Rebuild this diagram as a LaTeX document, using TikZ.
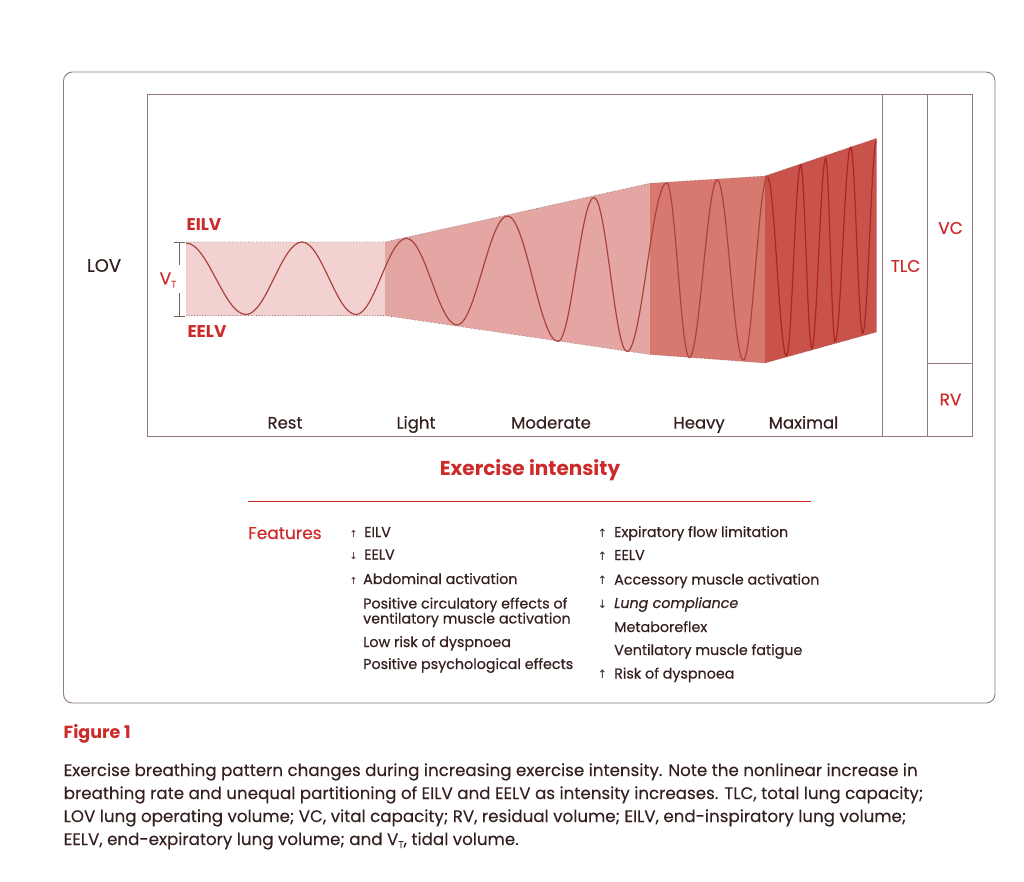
\documentclass[tikz,border=0pt]{standalone}
\usepackage{fontspec}
\setmainfont{Poppins}
\newfontfamily\medfont{Poppins}[FakeBold=0.45]
\newfontfamily\capfont{Poppins}[FakeBold=0.1]
\newfontfamily\arrowfont{DejaVu Sans}
\definecolor{txtdark}{HTML}{35201F}
\definecolor{redc}{HTML}{CC2B2A}
\definecolor{framec}{HTML}{8F7B7C}
\definecolor{restc}{HTML}{F2D2D0}
\definecolor{lightc}{HTML}{E3A6A3}
\definecolor{heavyc}{HTML}{D7796F}
\definecolor{maxc}{HTML}{C9524A}
\definecolor{wavec}{HTML}{A9443D}
\definecolor{dotc}{HTML}{8A7070}
\tikzset{
  frame/.style={draw=framec, line width=0.9pt},
  edge dots/.style={draw=dotc, line width=0.7pt, dotted},
  wave/.style={draw=wavec, line width=1.2pt},
  stage/.style={font=\medfont\fontsize{16.5}{16.5}\selectfont, text=txtdark, inner sep=0pt, anchor=base},
  vol/.style={font=\medfont\fontsize{17}{17}\selectfont, text=redc, inner sep=0pt},
  lim/.style={font=\bfseries\fontsize{17}{17}\selectfont, text=redc, inner sep=0pt},
  feat/.style={font=\medfont\fontsize{14.3}{15}\selectfont, text=txtdark, inner sep=0pt, anchor=base west, align=left},
  arr/.style={font=\arrowfont\fontsize{9.5}{9.5}\selectfont, text=txtdark, inner sep=0pt, anchor=base},
  arrb/.style={font=\arrowfont\fontsize{11.5}{11.5}\selectfont, text=txtdark, inner sep=0pt, anchor=base},
  captext/.style={font=\capfont\fontsize{16.7}{16.7}\selectfont, text=txtdark, inner sep=0pt, anchor=base west},
}
\begin{document}
\begin{tikzpicture}[x=1pt, y=-1pt]
\useasboundingbox (0,0) rectangle (1024,882);
% outer frame
\draw[frame, rounded corners=9pt] (63.5,72) rectangle (995,703);
% bands
\fill[restc] (186,242) -- (385,242) -- (385,315.5) -- (186,315.5) -- cycle;
\fill[lightc] (385,242) -- (650,183.3) -- (650,354.5) -- (385,315.5) -- cycle;
\fill[heavyc] (650,183.3) -- (765,176) -- (765,363) -- (650,354.5) -- cycle;
\fill[maxc] (765,176) -- (876.7,138.3) -- (876.7,332) -- (765,363) -- cycle;
% dotted envelope
\draw[edge dots] (186,242) -- (385,242) -- (650,183.3) -- (765,176) -- (876.7,138.3);
\draw[edge dots] (186,315.5) -- (385,315.5) -- (650,354.5) -- (765,363) -- (876.7,332);
% breathing wave
\draw[wave] (186,243)
  \foreach \x/\y [remember=\x as \px (initially 186), remember=\y as \py (initially 243)] in
  {246/314.5, 302/242, 356/314.5, 406.5/238.3, 457/325, 507.5/216, 558/341.5, 594/197.5, 627/351.5,
   666.7/183, 689.3/357.5, 717.3/180, 743.3/360, 767.5/177}
  { .. controls ({\px+0.3634*(\x-\px)},\py) and ({\x-0.3634*(\x-\px)},\y) .. (\x,\y) };
\draw[wave, draw=redc!85!black] (767.5,177)
  \foreach \x/\y [remember=\x as \px (initially 767.5), remember=\y as \py (initially 177)] in
  {786.5/356, 800.7/165, 811.7/348.3, 825.7/158.5, 835/341.7, 850.7/147.3, 862.7/333.3, 876.5/141}
  { .. controls ({\px+0.3634*(\x-\px)},\py) and ({\x-0.3634*(\x-\px)},\y) .. (\x,\y) };
% plot frame and volume columns
\draw[frame] (147.5,94.5) rectangle (972.5,436.5);
\draw[frame] (882.7,94.5) -- (882.7,436.5);
\draw[frame] (927.7,94.5) -- (927.7,436.5);
\draw[frame] (927.7,363.3) -- (972.5,363.3);
% tidal volume bar
\coordinate (vttop) at (179.3,242.5);
\coordinate (vtbot) at (179.3,316);
\draw[draw=framec!80!black, line width=1pt] (vttop) -- (179.3,265) (179.3,293) -- (vtbot)
  (173.5,242.5) -- (185,242.5) (173.5,316) -- (185,316);
\node[font=\medfont\fontsize{17}{17}\selectfont, text=redc, inner sep=0pt] (vt) at (168,280) {V\raisebox{-0.35ex}{\fontsize{9.5}{9.5}\selectfont T}};
% labels
\node[font=\medfont\fontsize{18}{18}\selectfont, text=txtdark, inner sep=0pt] (lov) at (104,265.5) {LOV};
\node[lim] (eilv) at (204,225) {EILV};
\node[lim] (eelv) at (207,332) {EELV};
\node[stage] (rest) at (285,428.5) {Rest};
\node[stage] (light) at (416,428.5) {Light};
\node[stage] (moderate) at (551,428.5) {Moderate};
\node[stage] (heavy) at (699,428.5) {Heavy};
\node[stage] (maximal) at (803.5,428.5) {Maximal};
\node[vol] (tlc) at (905.5,266) {TLC};
\node[vol] (vc) at (950.5,228) {VC};
\node[vol] (rv) at (950.5,399.5) {RV};
% exercise intensity
\node[font=\bfseries\fontsize{20}{20}\selectfont, text=redc, inner sep=0pt, anchor=base] (intensity) at (530,475.5) {Exercise intensity};
\coordinate (ruleL) at (248,501.5);
\coordinate (ruleR) at (811,501.5);
\draw[draw=redc, line width=1.2pt] (ruleL) -- (ruleR);
% features
\node[font=\medfont\fontsize{17}{17}\selectfont, text=redc, inner sep=0pt, anchor=base west] (features) at (248,539) {Features};
\node[arr] (a1) at (353.5,537) {↑};
\node[feat] (f1) at (364,537) {EILV};
\node[arr] (a2) at (353.5,559.5) {↓};
\node[feat] (f2) at (364,559.5) {EELV};
\node[arr] (a3) at (353.5,584) {↑};
\node[feat] (f3) at (363,584) {Abdominal activation};
\node[feat] (f4) at (363,608.5) {Positive circulatory effects of};
\node[feat] (f4b) at (363,623.5) {ventilatory muscle activation};
\node[feat] (f5) at (363,647) {Low risk of dyspnoea};
\node[feat] (f6) at (363,669) {Positive psychological effects};
\node[arrb] (b1) at (602.5,537) {↑};
\node[feat] (g1) at (614,537) {Expiratory flow limitation};
\node[arrb] (b2) at (602.5,560) {↑};
\node[feat] (g2) at (614,560) {EELV};
\node[arrb] (b3) at (602.5,584.5) {↑};
\node[feat] (g3) at (614,584.5) {Accessory muscle activation};
\node[arrb] (b4) at (602.5,608) {↓};
\node[feat] (g4) at (614,608) {\itshape Lung compliance};
\node[feat] (g5) at (614,632) {Metaboreflex};
\node[feat] (g6) at (614,655) {Ventilatory muscle fatigue};
\node[arrb] (b7) at (602.5,678.5) {↑};
\node[feat] (g7) at (614,678.5) {Risk of dyspnoea};
% caption
\node[font=\bfseries\fontsize{17.5}{17.5}\selectfont, text=redc, inner sep=0pt, anchor=base west] (fig) at (63.5,738.5) {Figure 1};
\node[captext] (c1) at (63.5,776) {Exercise breathing pattern changes during increasing exercise intensity. Note the nonlinear increase in};
\node[captext] (c2) at (63.5,799) {breathing rate and unequal partitioning of EILV and EELV as intensity increases. TLC, total lung capacity;};
\node[captext] (c3) at (63.5,822) {LOV lung operating volume; VC, vital capacity; RV, residual volume; EILV, end-inspiratory lung volume;};
\node[captext] (c4) at (63.5,845) {EELV, end-expiratory lung volume; and V\raisebox{-0.35ex}{\fontsize{10}{10}\selectfont T}, tidal volume.};
\end{tikzpicture}
\end{document}
